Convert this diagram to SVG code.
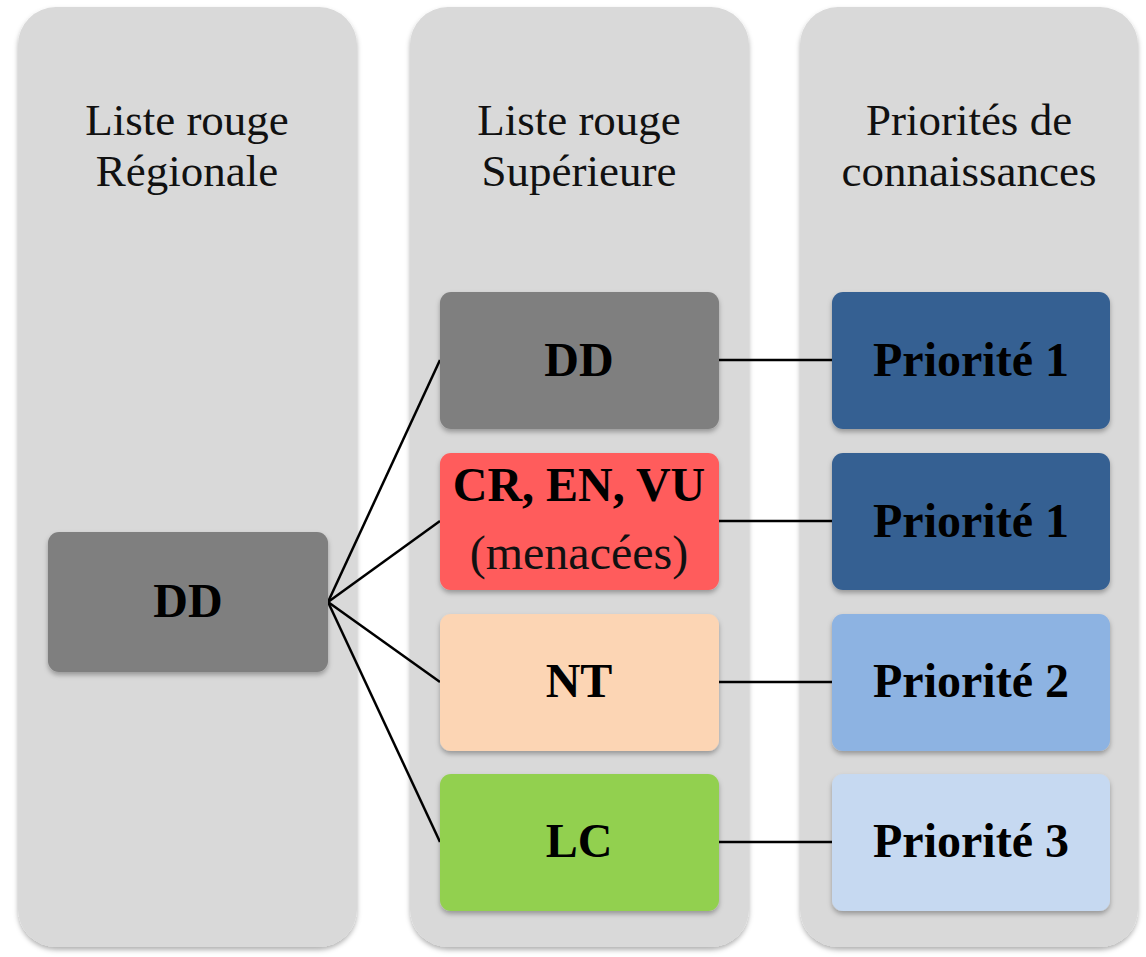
<svg xmlns="http://www.w3.org/2000/svg" width="1146" height="957" viewBox="0 0 1146 957">
<defs>
<filter id="sh" x="-10%" y="-10%" width="120%" height="130%">
<feDropShadow dx="0" dy="3" stdDeviation="2.5" flood-color="#000" flood-opacity="0.3"/>
</filter>
<style>
.col{fill:#d9d9d9;filter:url(#sh)}
.box{filter:url(#sh)}
.hd{font-family:"Liberation Serif","Times New Roman",serif;font-size:45px;fill:#111;text-anchor:middle}
.bt{font-family:"Liberation Serif","Times New Roman",serif;font-size:48px;font-weight:bold;fill:#000;text-anchor:middle}
.rt{font-family:"Liberation Serif","Times New Roman",serif;font-size:48px;fill:#111;text-anchor:middle}
.ln{stroke:#000;stroke-width:2.5;fill:none}
</style>
</defs>
<rect width="1146" height="957" fill="#fff"/>
<g id="col-regionale">
<rect class="col" x="18" y="7" width="339" height="940" rx="38"/>
<text class="hd" x="187" y="135">Liste rouge</text>
<text class="hd" x="187" y="186">Régionale</text>
</g>
<g id="col-superieure">
<rect class="col" x="410" y="7" width="339" height="940" rx="38"/>
<text class="hd" x="579" y="135">Liste rouge</text>
<text class="hd" x="579" y="186">Supérieure</text>
</g>
<g id="col-priorites">
<rect class="col" x="800" y="7" width="338" height="940" rx="38"/>
<text class="hd" x="969" y="135">Priorités de</text>
<text class="hd" x="969" y="186">connaissances</text>
</g>
<g id="connectors">
<line class="ln" x1="328" y1="602" x2="440" y2="360"/>
<line class="ln" x1="328" y1="602" x2="440" y2="521"/>
<line class="ln" x1="328" y1="602" x2="440" y2="682"/>
<line class="ln" x1="328" y1="602" x2="440" y2="842"/>
<line class="ln" x1="719" y1="360" x2="832" y2="360"/>
<line class="ln" x1="719" y1="521" x2="832" y2="521"/>
<line class="ln" x1="719" y1="682" x2="832" y2="682"/>
<line class="ln" x1="719" y1="842" x2="832" y2="842"/>
</g>
<g id="node-dd-regional">
<rect class="box" x="48" y="532" width="280" height="140" rx="11" fill="#7f7f7f"/>
<text class="bt" x="188" y="617">DD</text>
</g>
<g id="node-dd-sup">
<rect class="box" x="440" y="292" width="279" height="137" rx="11" fill="#7f7f7f"/>
<text class="bt" x="579" y="376">DD</text>
</g>
<g id="node-menacees">
<rect class="box" x="440" y="453" width="279" height="137" rx="11" fill="#ff5b5b"/>
<text class="bt" x="579" y="501">CR, EN, VU</text>
<text class="rt" x="579" y="569">(menacées)</text>
</g>
<g id="node-nt">
<rect class="box" x="440" y="614" width="279" height="137" rx="11" fill="#fcd5b4"/>
<text class="bt" x="579" y="697">NT</text>
</g>
<g id="node-lc">
<rect class="box" x="440" y="774" width="279" height="137" rx="11" fill="#92d050"/>
<text class="bt" x="579" y="857">LC</text>
</g>
<g id="node-p1a">
<rect class="box" x="832" y="292" width="278" height="137" rx="11" fill="#366092"/>
<text class="bt" x="971" y="376">Priorité 1</text>
</g>
<g id="node-p1b">
<rect class="box" x="832" y="453" width="278" height="137" rx="11" fill="#366092"/>
<text class="bt" x="971" y="537">Priorité 1</text>
</g>
<g id="node-p2">
<rect class="box" x="832" y="614" width="278" height="137" rx="11" fill="#8db3e2"/>
<text class="bt" x="971" y="697">Priorité 2</text>
</g>
<g id="node-p3">
<rect class="box" x="832" y="774" width="278" height="137" rx="11" fill="#c6d9f1"/>
<text class="bt" x="971" y="857">Priorité 3</text>
</g>
</svg>
